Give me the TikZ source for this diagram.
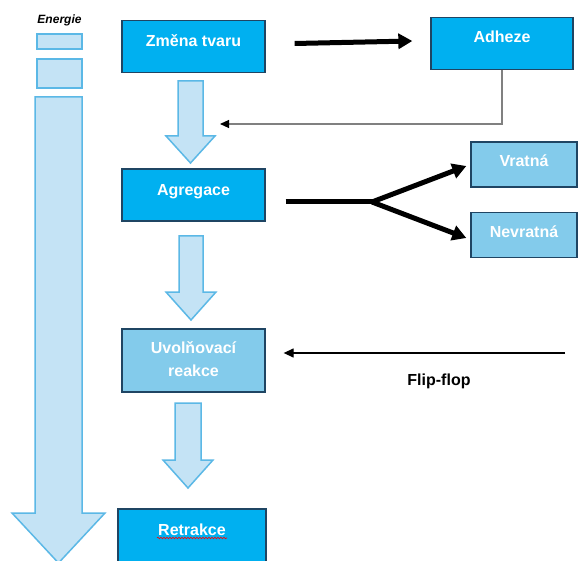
\documentclass[tikz,border=0pt]{standalone}
\usepackage{fontspec}
\setmainfont{Liberation Sans}
\usetikzlibrary{arrows.meta,decorations.pathmorphing}
\definecolor{mainblue}{HTML}{00B0F0}
\definecolor{lightbox}{HTML}{83CBEB}
\definecolor{boxedge}{HTML}{1F4563}
\definecolor{arrfill}{HTML}{C4E3F5}
\definecolor{arredge}{HTML}{5BB8E6}
\begin{document}
\begin{tikzpicture}[x=1pt,y=-1pt,
  box/.style={draw=boxedge,line width=1.3pt,fill=mainblue,inner sep=0pt},
  lbox/.style={draw=boxedge,line width=1.3pt,fill=lightbox,inner sep=0pt},
  lbl/.style={text=white,inner sep=0pt,font=\bfseries\fontsize{16}{23}\selectfont},
  ebox/.style={draw=arredge,line width=1.8pt,fill=arrfill,inner sep=0pt},
  blk/.style={draw=arredge,line width=1.5pt,fill=arrfill,line join=miter},
  thickarrow/.style={line width=5pt,-{Triangle[length=14pt,width=15pt]}},
  thinarrow/.style={line width=1.3pt,-{Triangle[length=10pt,width=9pt]}}]
\clip (0,0) rectangle (578,561);
\fill[white] (0,0) rectangle (578,561);

% energy column
\node[font=\bfseries\itshape\fontsize{12}{14}\selectfont] (en) at (59.5,20) {Energie};
\node[ebox,minimum width=45,minimum height=15] (e1) at (59.5,41.5) {};
\node[ebox,minimum width=45,minimum height=29] (e2) at (59.5,73.5) {};
\draw[blk] (35,97) -- (82,97) -- (82,513) -- (105,513) -- (58.5,563) -- (12,513) -- (35,513) -- cycle;

% block arrows between steps
\draw[blk] (178,81) -- (203,81) -- (203,136) -- (215,136) -- (190.5,163) -- (166,136) -- (178,136) -- cycle;
\draw[blk] (179,236) -- (203,236) -- (203,292) -- (216,292) -- (191,320) -- (166,292) -- (179,292) -- cycle;
\draw[blk] (175,403) -- (201,403) -- (201,460) -- (213,460) -- (188,488) -- (163,460) -- (175,460) -- cycle;

% boxes
\node[box,minimum width=143,minimum height=52,label={[lbl,yshift=6]center:Změna tvaru}] (zm) at (193.5,46.5) {};
\node[box,minimum width=142,minimum height=52,label={[lbl,yshift=7]center:Adheze}] (ad) at (502,43.5) {};
\node[box,minimum width=143,minimum height=52,label={[lbl,yshift=3]center:Agregace}] (ag) at (193.5,195) {};
\node[lbox,minimum width=106,minimum height=45,label={[lbl,yshift=4]center:Vratná}] (vr) at (524,164.5) {};
\node[lbox,minimum width=106,minimum height=45,label={[lbl,yshift=3]center:Nevratná}] (nv) at (524,235) {};
\node[lbox,minimum width=143,minimum height=63,label={[lbl,align=center,yshift=1]center:Uvolňovací\\reakce}] (uv) at (193.5,360.5) {};
\node[box,minimum width=148,minimum height=66,label={[lbl,yshift=12.5]center:Retrakce}] (rt) at (192,542) {};
\draw[red,line width=0.6pt,decorate,decoration={snake,amplitude=0.8pt,segment length=3pt}]
  ([xshift=-35pt,yshift=4pt]rt.center) -- ([xshift=35pt,yshift=4pt]rt.center);

% connectors
\draw[thickarrow] ([xshift=29pt,yshift=3pt]zm.east) -- ([xshift=-18pt,yshift=2.5pt]ad.west);

\coordinate (adtip) at (220,124);
\draw[line width=1.1pt,draw=gray,-{Triangle[length=9pt,width=8pt,black]}] (ad.south) |- (adtip);

\coordinate (fork) at (372,202);
\draw[line width=5pt] ([xshift=20pt,yshift=-7pt]ag.east) -- (fork);
\draw[thickarrow] (fork) -- ([xshift=-4pt,yshift=-1.5pt]vr.west);
\draw[thickarrow] (fork) -- ([xshift=-4pt,yshift=-3pt]nv.west);

\coordinate (ffstart) at (565,353);
\draw[thinarrow] (ffstart) -- ([xshift=18pt,yshift=7.5pt]uv.east);
\node[font=\bfseries\fontsize{16}{19}\selectfont] (ff) at (439,381) {Flip-flop};
\end{tikzpicture}
\end{document}
